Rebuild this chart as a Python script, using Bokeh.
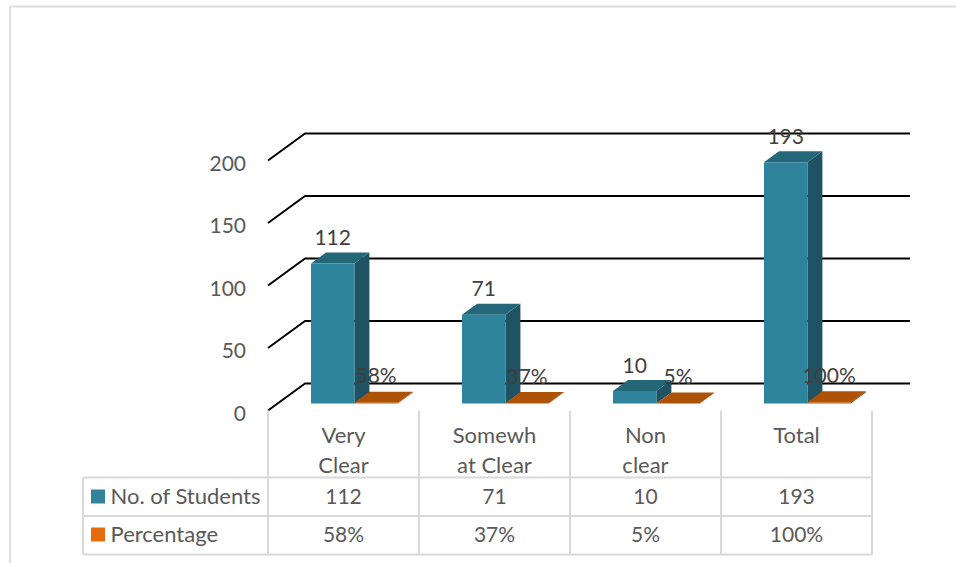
from bokeh.plotting import figure
from bokeh.embed import file_html
from bokeh.resources import INLINE
from bokeh.core.properties import value
from bokeh.models import Range1d

categories = ["Very\nClear", "Somewh\nat Clear", "Non\nclear", "Total"]
students = [112, 71, 10, 193]
percentage = [0.58, 0.37, 0.05, 1.00]
student_labels = ["112", "71", "10", "193"]
percent_labels = ["58%", "37%", "5%", "100%"]
y_ticks = [0, 50, 100, 150, 200]
series_names = ["No. of Students", "Percentage"]

FONT = value("Lato")
PX_PER_UNIT = 1.25
BASE_PX = 403.0


def v(px):
    return (BASE_PX - px) / PX_PER_UNIT


def dv(px):
    return px / PX_PER_UNIT


W, H = 956, 563
p = figure(width=W, height=H, output_backend="svg", toolbar_location=None,
           x_range=Range1d(0.5, W + 0.5), y_range=Range1d(v(H), v(0)),
           min_border=0, outline_line_color=None, background_fill_color="white")
p.xaxis.visible = False
p.yaxis.visible = False
p.xgrid.visible = False
p.ygrid.visible = False

LIGHT = "#D9D9D9"

# outer picture frame
p.segment([10, 10], [v(6), v(6)], [957, 10], [v(6), v(563)], line_color="#DEDEDE", line_width=2)

# 3-D walls: gridlines
front_x, back_x, right_x = 268, 305, 910
front_dy, back_dy = dv(-7), dv(20)
for t in y_ticks:
    p.line([front_x, back_x, right_x], [t + front_dy, t + back_dy, t + back_dy],
           line_color="#000000", line_width=2)

# bars
band = 151.0
first_center = 343.5
bar_w = 43.4
depth_x, depth_y = 15, dv(11)
TEAL_F, TEAL_T, TEAL_S = "#2E849C", "#246779", "#1F5262"
OR_F, OR_T, OR_S = "#C45F0C", "#AD5207", "#8F4406"
centers = [first_center + band * i for i in range(len(categories))]


def bar3d(x0, val, f, t, s):
    x1 = x0 + bar_w
    p.patch([x1, x1 + depth_x, x1 + depth_x, x1], [0, depth_y, val + depth_y, val], color=s, line_color=None)
    p.patch([x0, x1, x1 + depth_x, x0 + depth_x], [val, val, val + depth_y, val + depth_y], color=t, line_color=None)
    p.quad(left=[x0], right=[x1], bottom=[0], top=[val], color=f, line_color=None)


for c, a, b in zip(centers, students, percentage):
    bar3d(c - 32.5, a, TEAL_F, TEAL_T, TEAL_S)
    bar3d(c - 32.5 + bar_w, b, OR_F, OR_T, OR_S)

# data labels
lab = dict(text_font=FONT, text_font_size="21px", text_align="center", text_baseline="middle",
           text_color="#404040")
p.text([c - 32.5 + bar_w / 2 for c in centers], students, text=student_labels, y_offset=-26, **lab)
p.text([c - 32.5 + bar_w * 1.5 for c in centers], percentage, text=percent_labels, y_offset=-28, **lab)

# value axis labels
p.text([246] * len(y_ticks), [t + dv(-9.5) for t in y_ticks], text=[str(t) for t in y_ticks],
       text_font=FONT, text_font_size="21px", text_align="right", text_baseline="middle",
       text_color="#595959")

# data table
tx = [268 + band * i for i in range(5)]
row_y = [477, 515.5, 554]
p.segment(tx, [v(410)] * 5, tx, [v(554)] * 5, line_color=LIGHT, line_width=2)
p.segment([83] * 3, [v(r) for r in row_y], [872] * 3, [v(r) for r in row_y], line_color=LIGHT, line_width=2)
p.segment([83], [v(477)], [83], [v(554)], line_color=LIGHT, line_width=2)

tab = dict(text_font=FONT, text_font_size="21px", text_baseline="middle", text_color="#595959")
word = dict(tab, text_font_size="22px")
p.text(centers, [v(420)] * 4, text=categories, text_align="center", text_line_height=1.12,
       **dict(word, text_baseline="top"))
p.text(centers, [v(495.5)] * 4, text=student_labels, text_align="center", **tab)
p.text(centers, [v(533)] * 4, text=percent_labels, text_align="center", **tab)
p.text([110.5, 110.5], [v(495), v(533)], text=series_names, text_align="left", **word)
p.quad(left=[91, 91], right=[105, 105], bottom=[v(503), v(541)], top=[v(489), v(527)],
       color=["#31849B", "#E46C0A"], line_color=None)

open("out.html", "w").write(file_html(p, INLINE))
